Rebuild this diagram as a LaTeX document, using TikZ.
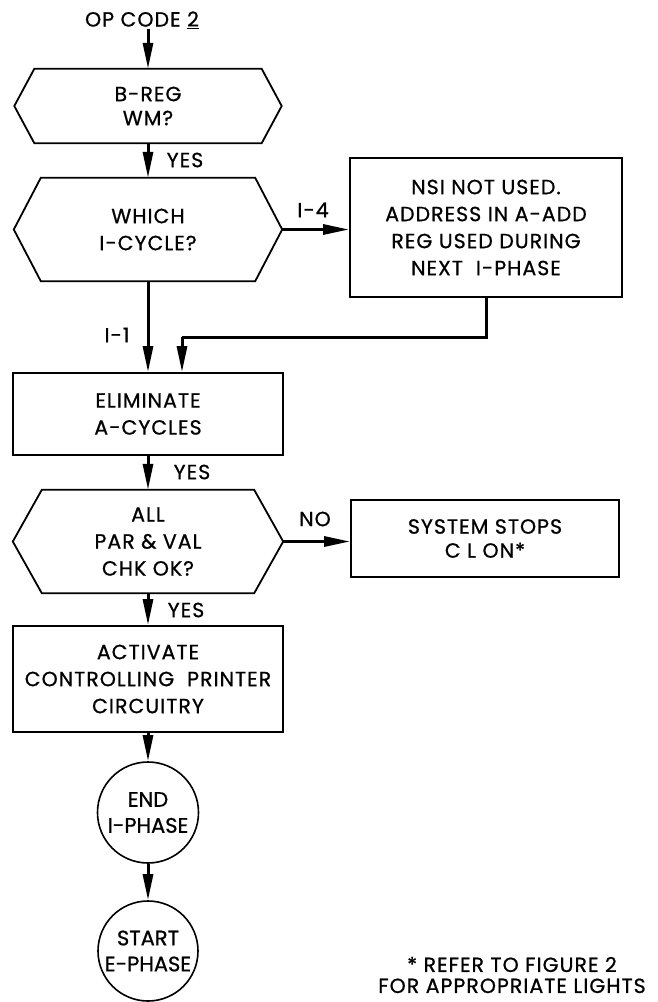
\documentclass[tikz,border=0pt]{standalone}
\usepackage{fontspec}
\setmainfont{Poppins}[LetterSpace=5,FakeBold=0.8]
\newfontfamily\circfont{Poppins}[LetterSpace=0,FakeBold=0.8]
\usetikzlibrary{arrows.meta}
\newcommand\hexdraw[2]{\draw[shapeline] ([xshift=#2]#1.north west) -- ([xshift=-#2]#1.north east) -- (#1.east) -- ([xshift=-#2]#1.south east) -- ([xshift=#2]#1.south west) -- (#1.west) -- cycle;}
\begin{document}
\begin{tikzpicture}[x=1pt,y=-1pt,
  shapeline/.style={line width=1.8pt, line join=miter},
  txt/.style={font=\fontsize{20.5}{27}\selectfont, align=center, inner sep=0pt},
  hexn/.style={txt},
  boxn/.style={txt, draw, line width=1.8pt},
  circn/.style={txt, draw, circle, line width=1.6pt, font=\circfont\fontsize{21}{26}\selectfont},
  flow/.style={line width=3pt, -{Triangle[length=26pt,width=10pt]}},
  plain/.style={line width=3pt},
  lbl/.style={font=\fontsize{20.5}{22}\selectfont, inner sep=0pt}
]
\useasboundingbox (0,0) rectangle (658,1002);

\node[txt] (op) at (142,20) {OP CODE \underline{2}};

\node[hexn, minimum width=267pt, minimum height=74pt, font=\fontsize{20.5}{24}\selectfont] (h1) at (148,106) {B-REG\\WM?};
\hexdraw{h1}{20}

\node[hexn, minimum width=268pt, minimum height=103pt] (h2) at (148,229.5) {WHICH\\I-CYCLE?};
\hexdraw{h2}{27}

\node[boxn, minimum width=272pt, minimum height=139pt] (nsi) at (486,227.5) {NSI NOT USED.\\ADDRESS IN A-ADD\\REG USED DURING\\NEXT\ \ I-PHASE};

\node[boxn, minimum width=270pt, minimum height=82pt] (elim) at (148,414) {ELIMINATE\\A-CYCLES};

\node[hexn, minimum width=270pt, minimum height=103pt] (h3) at (148,541.5) {ALL\\PAR \& VAL\\CHK OK?};
\hexdraw{h3}{29}

\node[boxn, minimum width=268pt, minimum height=77pt, font=\fontsize{20.5}{24}\selectfont] (sys) at (485,538.5) {SYSTEM STOPS\\C L ON*};

\node[boxn, minimum width=270pt, minimum height=106pt] (act) at (148,679) {ACTIVATE\\CONTROLLING\ \ PRINTER\\CIRCUITRY};

\node[circn, minimum size=101pt] (c1) at (148,812.5) {END\\I-PHASE};
\node[circn, minimum size=100pt] (c2) at (148,951) {START\\E-PHASE};

\node[txt, font=\fontsize{20.5}{21}\selectfont] (note) at (512,975) {* REFER TO FIGURE 2\\FOR APPROPRIATE LIGHTS};

\coordinate (j1) at (182,337);

\draw[flow] (op.south -| h1.north) -- (h1.north);
\draw[flow] (h1.south) -- (h2.north);
\node[lbl] (yes1) at (185,160) {YES};
\draw[flow] (h2.east) -- (h2.east -| nsi.west);
\node[lbl] (i4) at (313,210) {I-4};
\draw[flow] (h2.south) -- (elim.north);
\node[lbl] (i1) at (117,335) {I-1};
\draw[plain] (nsi.south) |- (j1);
\draw[flow] (j1) -- (j1 |- elim.north);
\draw[flow] (elim.south) -- (h3.north);
\node[lbl] (yes2) at (192,472) {YES};
\draw[flow] (h3.east) -- (h3.east -| sys.west);
\node[lbl] (no) at (315,519) {NO};
\draw[flow] (h3.south) -- (act.north);
\node[lbl] (yes3) at (186,610) {YES};
\draw[flow] (act.south) -- (c1.north);
\draw[flow] (c1.south) -- (c2.north);
\end{tikzpicture}
\end{document}
